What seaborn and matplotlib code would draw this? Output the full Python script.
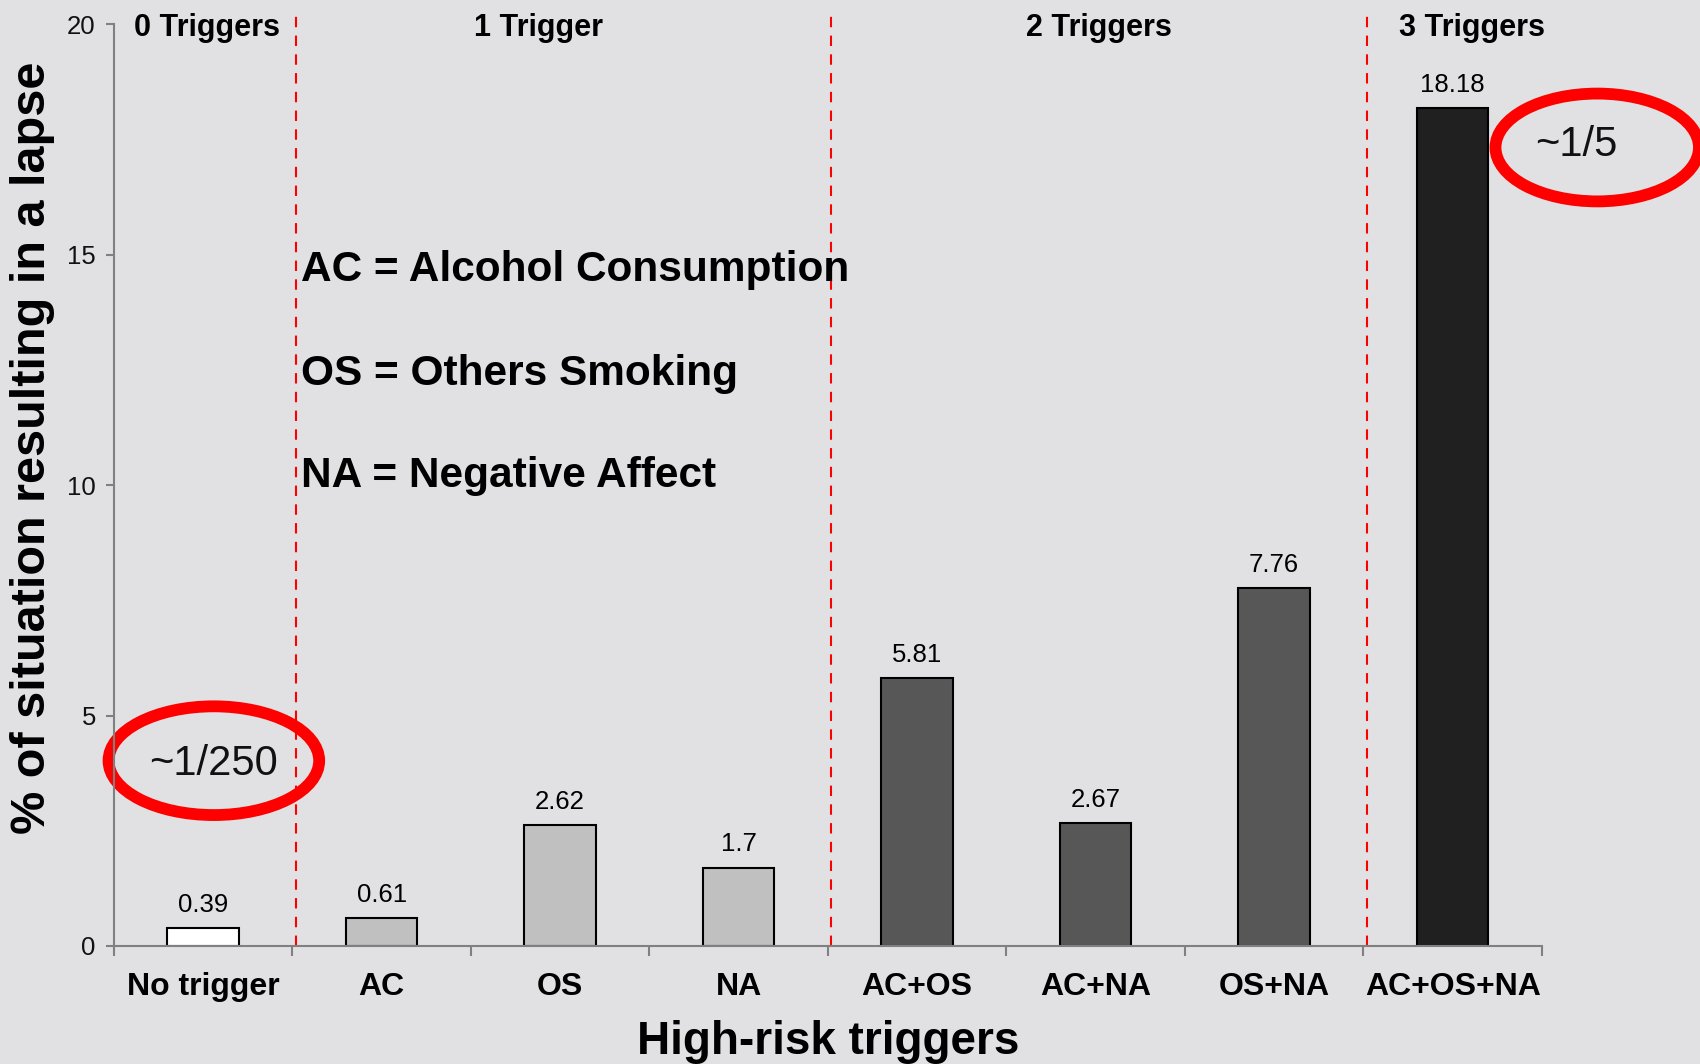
import numpy as np
import matplotlib
matplotlib.use('Agg')
import matplotlib.pyplot as plt
from matplotlib.patches import Ellipse
import pandas as pd
import seaborn as sns

sns.set_style('ticks')
plt.rcParams['font.family'] = ['Liberation Sans', 'DejaVu Sans']
plt.rcParams.update({'text.color': 'black', 'axes.labelcolor': 'black'})

triggers = ['No trigger', 'AC', 'OS', 'NA', 'AC+OS', 'AC+NA', 'OS+NA', 'AC+OS+NA']
lapse_pct = [0.39, 0.61, 2.62, 1.7, 5.81, 2.67, 7.76, 18.18]
n_triggers = [0, 1, 1, 1, 2, 2, 2, 3]
group_labels = ['0 Triggers', '1 Trigger', '2 Triggers', '3 Triggers']
group_colors = ['#ffffff', '#c0c0c0', '#575757', '#202020']
key_lines = ['AC = Alcohol Consumption', 'OS = Others Smoking', 'NA = Negative Affect']
yticks = [0, 5, 10, 15, 20]

bg = '#e1e1e3'
df = pd.DataFrame({'trigger': triggers, 'pct': lapse_pct,
                   'group': [group_labels[n] for n in n_triggers]})

fig = plt.figure(figsize=(17, 10.64), dpi=100, facecolor=bg)
ax = fig.add_axes([0.067, 0.111, 0.840, 0.866])
ax.set_facecolor(bg)

sns.barplot(data=df, x='trigger', y='pct', hue='group', palette=dict(zip(group_labels, group_colors)),
            dodge=False, width=0.4, edgecolor='black', linewidth=1.5, legend=False, ax=ax)

# value labels on top of bars
for c in ax.containers:
    ax.bar_label(c, fmt='%g', padding=8, fontsize=18.5, color='black')

ax.set_xlim(-0.5, 7.5)
ax.set_ylim(0, 20)
ax.set_yticks(yticks)
ax.set_xticks(np.arange(-0.5, len(triggers), 1), minor=True)
ax.tick_params(axis='x', which='major', length=0, pad=19, labelsize=23, labelcolor='black')
ax.tick_params(axis='x', which='minor', length=7, width=1.5, color='#808080', direction='out')
ax.tick_params(axis='y', length=6, width=1.5, color='#808080', labelsize=18.5, pad=7, labelcolor='#111111')
for lbl in ax.get_xticklabels():
    lbl.set_fontweight('bold')
for s in ['top', 'right']:
    ax.spines[s].set_visible(False)
for s in ['left', 'bottom']:
    ax.spines[s].set_color('#808080')
    ax.spines[s].set_linewidth(1.5)

ax.set_xlabel('High-risk triggers', fontsize=33, weight='bold', va='center')
ax.xaxis.set_label_coords(0.5, -0.104)
ax.set_ylabel('% of situation resulting in a lapse', fontsize=35, weight='bold', va='center')
ax.yaxis.set_label_coords(-0.057, 0.541)

# red dashed separators between trigger groups
bounds = [i - 0.48 for i in range(1, len(n_triggers)) if n_triggers[i] != n_triggers[i - 1]]
for xb in bounds:
    ax.axvline(xb, ymin=0, ymax=1.013, color='red', ls=(0, (5, 4)), lw=1.5, clip_on=False)

group_x = [0.02, 1.88, 5.02, 7.11]
for gx, gl in zip(group_x, group_labels):
    ax.text(gx, 19.92, gl, fontsize=22, weight='bold', ha='center', va='center')

for ky, kl in zip([14.66, 12.42, 10.19], key_lines):
    ax.text(0.55, ky, kl, fontsize=30.5, weight='bold', ha='left', va='center')

# red circles
ax.add_patch(Ellipse((0.06, 4.02), 1.18, 2.36, fill=False, ec='red', lw=8.5, clip_on=False))
ax.add_patch(Ellipse((7.81, 17.33), 1.14, 2.34, fill=False, ec='red', lw=8.5, clip_on=False))
ax.text(0.06, 3.95, '~1/250', fontsize=30, ha='center', va='center', color='#111111')
ax.text(7.69, 17.38, '~1/5', fontsize=30, ha='center', va='center', color='#111111')

fig.savefig('out.png', dpi=100, facecolor=bg)
